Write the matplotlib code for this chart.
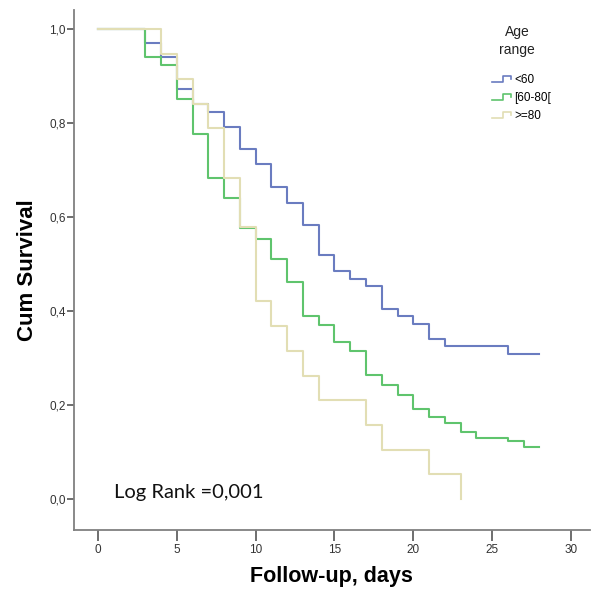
import matplotlib
matplotlib.use("Agg")
import matplotlib.pyplot as plt
from matplotlib.legend_handler import HandlerBase
from matplotlib.lines import Line2D
from matplotlib.ticker import FuncFormatter

plt.rcParams.update({"font.family": "Liberation Sans"})

# Kaplan-Meier steps (time of drop, survival after drop)
t_lt60 = [0, 3, 4, 5, 6, 7, 8, 9, 10, 11, 12, 13, 14, 15, 16, 17, 18, 19, 20, 21, 22, 26, 28]
s_lt60 = [1.0, 0.971, 0.940, 0.874, 0.842, 0.824, 0.792, 0.746, 0.713, 0.664, 0.630, 0.583,
          0.519, 0.486, 0.469, 0.454, 0.405, 0.389, 0.373, 0.341, 0.325, 0.308, 0.308]

t_60_80 = [0, 3, 4, 5, 6, 7, 8, 9, 10, 11, 12, 13, 14, 15, 16, 17, 18, 19, 20, 21, 22, 23, 24, 26, 27, 28]
s_60_80 = [1.0, 0.941, 0.924, 0.852, 0.777, 0.683, 0.642, 0.578, 0.554, 0.511, 0.463, 0.390,
           0.370, 0.334, 0.315, 0.265, 0.243, 0.222, 0.192, 0.174, 0.162, 0.143, 0.130, 0.124,
           0.112, 0.112]

t_ge80 = [0, 4, 5, 6, 7, 8, 9, 10, 11, 12, 13, 14, 17, 18, 21, 23]
s_ge80 = [1.0, 0.947, 0.895, 0.842, 0.789, 0.684, 0.579, 0.421, 0.368, 0.316, 0.263, 0.211,
          0.158, 0.105, 0.053, 0.0]

labels = ["<60", "[60-80[", ">=80"]
colors = ["#6a7cc0", "#5fc46d", "#e2deb4"]


class StepHandler(HandlerBase):
    def create_artists(self, legend, orig_handle, xdescent, ydescent,
                       width, height, fontsize, trans):
        x0, y0 = -xdescent, -ydescent
        xs = [x0, x0 + 0.5 * width, x0 + 0.5 * width, x0 + 0.85 * width, x0 + 0.85 * width]
        ys = [y0 + 0.1 * height, y0 + 0.1 * height, y0 + 0.85 * height,
              y0 + 0.85 * height, y0 + 0.45 * height]
        ln = Line2D(xs, ys, color=orig_handle.get_color(), lw=1.2, transform=trans)
        return [ln]


fig = plt.figure(figsize=(5.97, 5.91), dpi=100)
ax = fig.add_axes([0.124, 0.103, 0.864, 0.88])

handles = []
for t, s, c, lab in zip([t_lt60, t_60_80, t_ge80], [s_lt60, s_60_80, s_ge80], colors, labels):
    h, = ax.step(t, s, where="post", color=c, lw=1.5, label=lab)
    handles.append(h)

ax.set_xlim(-1.52, 31.2)
ax.set_ylim(-0.066, 1.041)
ax.set_xticks(range(0, 31, 5))
ax.set_yticks([0, 0.2, 0.4, 0.6, 0.8, 1.0])
ax.yaxis.set_major_formatter(FuncFormatter(lambda v, p: f"{v:.1f}".replace(".", ",")))

for side in ["top", "right"]:
    ax.spines[side].set_visible(False)
for side in ["left", "bottom"]:
    ax.spines[side].set_color("#808080")
    ax.spines[side].set_linewidth(1.3)
ax.tick_params(axis="y", length=5, width=1.2, color="#555555", labelsize=8.5,
               labelcolor="#333333", pad=1)
ax.tick_params(axis="x", length=8, width=1.2, color="#555555", labelsize=8.5,
               labelcolor="#333333", pad=2)

ax.set_ylabel("Cum Survival", fontsize=16, fontweight="bold", labelpad=8)
ax.set_xlabel("Follow-up, days", fontsize=15.5, fontweight="bold", labelpad=7)

ax.text(1.0, 0.015, "Log Rank =0,001", fontsize=14.5, family="Lato", color="#111111",
        va="center", ha="left")

# legend: title as separate text, entries below it
fig.text(0.866, 0.930, "Age\nrange", fontsize=10, ha="center", va="center",
         multialignment="center", color="#222222", linespacing=1.35)
leg = ax.legend(handles=handles, labels=labels, handler_map={Line2D: StepHandler()},
                loc="upper left", bbox_to_anchor=(0.815, 0.885),
                bbox_transform=fig.transFigure, frameon=False, fontsize=8.5,
                handlelength=1.8, handletextpad=0.05, labelspacing=0.5, borderpad=0)

fig.savefig("out.png", dpi=100)
